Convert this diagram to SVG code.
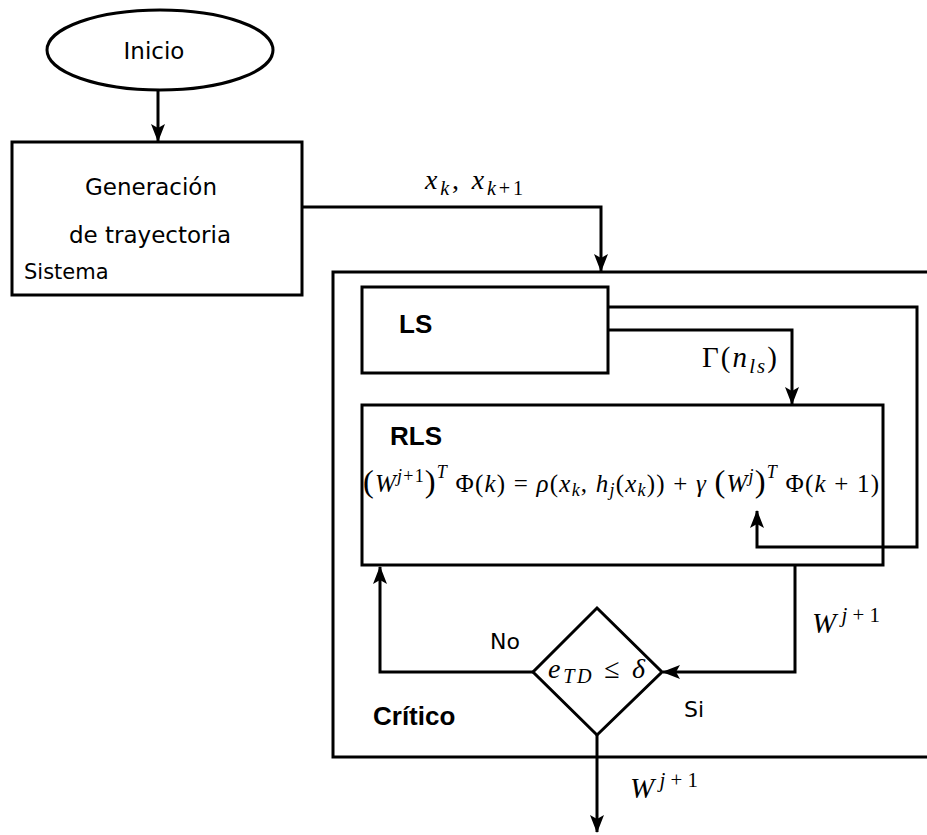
<svg xmlns="http://www.w3.org/2000/svg" width="927" height="835" viewBox="0 0 927 835">
  <style>
    .shape { fill: #fff; stroke: #000; stroke-width: 3; }
    .wire { fill: none; stroke: #000; stroke-width: 3; }
    .sans { font-family: "DejaVu Sans", "Liberation Sans", sans-serif; fill: #000; }
    .bold { font-family: "Liberation Sans", "DejaVu Sans", sans-serif; font-weight: bold; }
    .math { font-family: "Liberation Serif", "DejaVu Serif", serif; font-style: italic; fill: #000; }
    .up { font-style: normal; }
    .sup, .sub { font-size: 72%; }
    .big { font-style: normal; font-size: 130%; }
  </style>
  <defs>
    <marker id="arrow" markerUnits="userSpaceOnUse" markerWidth="18" markerHeight="16" refX="17" refY="8" orient="auto">
      <path d="M0,1 L18,8 L0,15 L4,8 Z" fill="#000"/>
    </marker>
  </defs>

  <!-- Critic container (runs off the right edge) -->
  <g id="critico">
    <rect class="shape" x="333" y="272" width="620" height="485"/>
    <text class="sans bold" x="373" y="725" font-size="26">Crítico</text>
  </g>

  <g id="inicio">
    <ellipse class="shape" cx="160" cy="50" rx="113" ry="40"/>
    <text class="sans" x="154" y="59" font-size="23" text-anchor="middle">Inicio</text>
  </g>

  <g id="generacion">
    <rect class="shape" x="12" y="142" width="290" height="153"/>
    <text class="sans" x="151" y="195" font-size="23" text-anchor="middle">Generación</text>
    <text class="sans" x="150" y="243" font-size="23" text-anchor="middle">de trayectoria</text>
    <text class="sans" x="24" y="279" font-size="21">Sistema</text>
  </g>

  <g id="ls">
    <rect class="shape" x="362" y="287" width="246" height="86"/>
    <text class="sans bold" x="399" y="333" font-size="26">LS</text>
  </g>

  <g id="rls">
    <rect class="shape" x="362" y="405" width="521" height="160"/>
    <text class="sans bold" x="390" y="445" font-size="26">RLS</text>
    <text class="math" x="363" y="492" font-size="25" textLength="516" lengthAdjust="spacing"><tspan class="big">(</tspan><tspan>W</tspan><tspan class="sup" dy="-10">j</tspan><tspan class="sup up">+1</tspan><tspan class="big" dy="10">)</tspan><tspan class="sup" dy="-14">T</tspan><tspan class="up" dy="14"> Φ(</tspan><tspan>k</tspan><tspan class="up">) = </tspan><tspan>ρ</tspan><tspan class="up">(</tspan><tspan>x</tspan><tspan class="sub" dy="4">k</tspan><tspan class="up" dy="-4">, </tspan><tspan>h</tspan><tspan class="sub" dy="4">j</tspan><tspan class="up" dy="-4">(</tspan><tspan>x</tspan><tspan class="sub" dy="4">k</tspan><tspan class="up" dy="-4">)) + </tspan><tspan>γ </tspan><tspan class="big">(</tspan><tspan>W</tspan><tspan class="sup" dy="-10">j</tspan><tspan class="big" dy="10">)</tspan><tspan class="sup" dy="-14">T</tspan><tspan class="up" dy="14"> Φ(</tspan><tspan>k</tspan><tspan class="up"> + 1)</tspan></text>
  </g>

  <g id="decision">
    <polygon class="shape" points="597,608 662,672 597,735 533,672"/>
    <text class="math" x="548" y="678" font-size="28" textLength="97" lengthAdjust="spacing">e<tspan class="sub" dy="5">TD</tspan><tspan class="up" dy="-5"> ≤ </tspan>δ</text>
  </g>

  <g id="connectors">
    <path class="wire" d="M158,90 V141" marker-end="url(#arrow)"/>
    <path class="wire" d="M302,207 H601 V271" marker-end="url(#arrow)"/>
    <path class="wire" d="M608,307 H917 V547 H757 V511" marker-end="url(#arrow)"/>
    <path class="wire" d="M608,330 H792 V404" marker-end="url(#arrow)"/>
    <path class="wire" d="M795,565 V672 H663" marker-end="url(#arrow)"/>
    <path class="wire" d="M533,672 H380 V567" marker-end="url(#arrow)"/>
    <path class="wire" d="M597,735 V832" marker-end="url(#arrow)"/>
  </g>

  <g id="labels">
    <text class="math" x="425" y="189" font-size="28" textLength="98" lengthAdjust="spacing">x<tspan class="sub" dy="6">k</tspan><tspan class="up" dy="-6">, </tspan>x<tspan class="sub" dy="6">k</tspan><tspan class="sub up">+1</tspan></text>
    <text class="math" x="702" y="367" font-size="29" textLength="75" lengthAdjust="spacing"><tspan class="up">Γ(</tspan>n<tspan class="sub" dy="6">ls</tspan><tspan class="up" dy="-6">)</tspan></text>
    <text class="math" x="812" y="633" font-size="29" textLength="68" lengthAdjust="spacing">W<tspan class="sup" dy="-11">j</tspan><tspan class="sup up">+1</tspan></text>
    <text class="math" x="630" y="798" font-size="29" textLength="68" lengthAdjust="spacing">W<tspan class="sup" dy="-11">j</tspan><tspan class="sup up">+1</tspan></text>
    <text class="sans" x="490" y="649" font-size="22">No</text>
    <text class="sans" x="684" y="717" font-size="22">Si</text>
  </g>
</svg>
